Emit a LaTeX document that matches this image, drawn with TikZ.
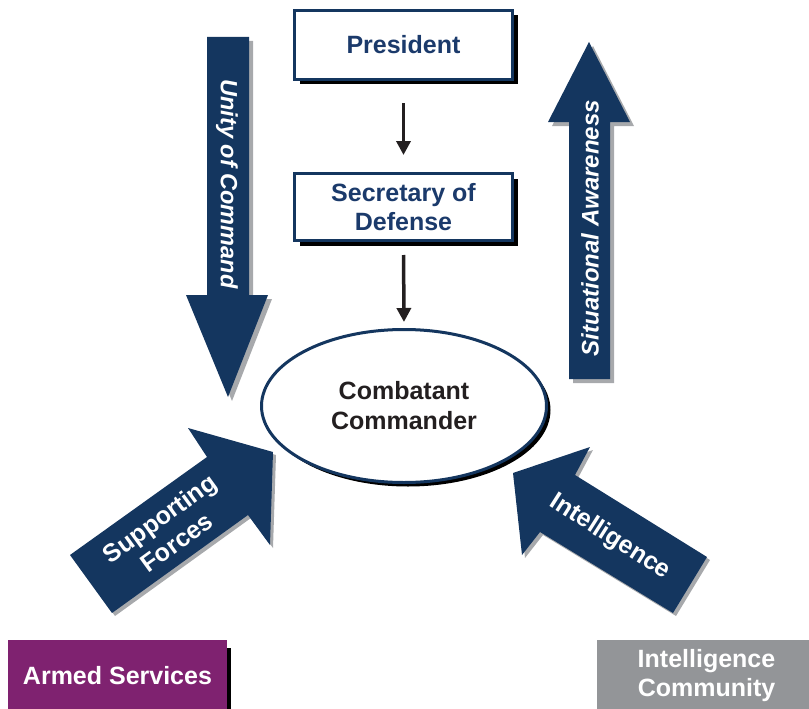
\documentclass[tikz,border=0pt]{standalone}
\usepackage{fontspec}
\setmainfont{Liberation Sans}
\usetikzlibrary{arrows.meta,shadows,shapes.geometric}
\definecolor{navy}{HTML}{14365F}
\definecolor{boxtext}{HTML}{1B3A6B}
\definecolor{sgray}{HTML}{A7A9AC}
\definecolor{purp}{HTML}{7F2270}
\definecolor{icgray}{HTML}{939598}
\definecolor{ink}{HTML}{231F20}
\begin{document}
\begin{tikzpicture}[x=1pt,y=-1pt,
  boxnode/.style={draw=navy, line width=3pt, fill=white, minimum width=218pt,
    inner sep=0pt, align=center, text=boxtext,
    font=\fontsize{25}{29}\selectfont\bfseries,
    drop shadow={shadow xshift=5pt, shadow yshift=-5pt, fill=black, opacity=1}},
  conn/.style={draw=ink, line width=3.5pt, -{Triangle[width=14pt,length=14pt]}},
  bigtext/.style={text=white, font=\fontsize{25}{29}\selectfont\bfseries, align=center, inner sep=0pt},
  bigitalic/.style={text=white, font=\fontsize{23.5}{28}\selectfont\bfseries\itshape, inner sep=0pt},
  bottombox/.style={text=white, minimum width=219pt, minimum height=72pt, inner sep=0pt,
    align=center, font=\fontsize{25}{29}\selectfont\bfseries}
]
\useasboundingbox (0,0) rectangle (809,709);

% Unity of Command arrow (down)
\fill[sgray, shift={(4,4)}] (207,37) -- (249,37) -- (249,295) -- (268,295) -- (228,397) -- (186,295) -- (207,295) -- cycle;
\fill[navy] (207,37) -- (249,37) -- (249,295) -- (268,295) -- (228,397) -- (186,295) -- (207,295) -- cycle;
\node[bigitalic, rotate=-90] (unity) at (227,184) {Unity of Command};

% Situational Awareness arrow (up)
\fill[sgray, shift={(4,4)}] (569,379) -- (569,122) -- (548,122) -- (589,42) -- (630,122) -- (610,122) -- (610,379) -- cycle;
\fill[navy] (569,379) -- (569,122) -- (548,122) -- (589,42) -- (630,122) -- (610,122) -- (610,379) -- cycle;
\node[bigitalic, rotate=90, font=\fontsize{24}{28}\selectfont\bfseries\itshape] (sa) at (590,228) {Situational Awareness};

% Supporting Forces arrow
\fill[sgray, shift={(3,3)}] (70,555) -- (207,457) -- (188,428) -- (273,452) -- (270,545) -- (248,515) -- (112,613) -- cycle;
\fill[navy] (70,555) -- (207,457) -- (188,428) -- (273,452) -- (270,545) -- (248,515) -- (112,613) -- cycle;
\node[bigtext, rotate=36] (sf) at (168,530) {Supporting\\Forces};

% Intelligence arrow
\fill[sgray, shift={(3,3)}] (707,557) -- (575,475) -- (590,447) -- (513,473) -- (522,555) -- (540,532) -- (673,613) -- cycle;
\fill[navy] (707,557) -- (575,475) -- (590,447) -- (513,473) -- (522,555) -- (540,532) -- (673,613) -- cycle;
\node[bigtext, rotate=-32.5] (intel) at (610,537) {Intelligence};

% Boxes
\node[boxnode, minimum height=69pt] (pres) at (403.5,45) {President};
\node[boxnode, minimum height=67pt] (sec) at (403.5,207) {Secretary of\\Defense};

% Ellipse
\node[ellipse, draw=navy, line width=3pt, fill=white, minimum width=285pt, minimum height=153pt,
  inner sep=0pt, align=center, text=ink, font=\fontsize{25}{30}\selectfont\bfseries,
  drop shadow={shadow xshift=4pt, shadow yshift=-4pt, fill=black, opacity=1}] (cc) at (404,406) {Combatant\\Commander};

% Connectors
\draw[conn, shorten <=22pt, shorten >=17pt] (pres.south) -- (sec.north);
\draw[conn, shorten <=13pt, shorten >=6pt] (sec.south) -- (cc.north);

% Bottom boxes
\node[bottombox, fill=purp, drop shadow={shadow xshift=4pt, shadow yshift=-8pt, fill=black, opacity=1}] (as) at (117.5,676) {Armed Services};
\node[bottombox, fill=icgray] (ic) at (706.5,676) {Intelligence\\Community};
\end{tikzpicture}
\end{document}
